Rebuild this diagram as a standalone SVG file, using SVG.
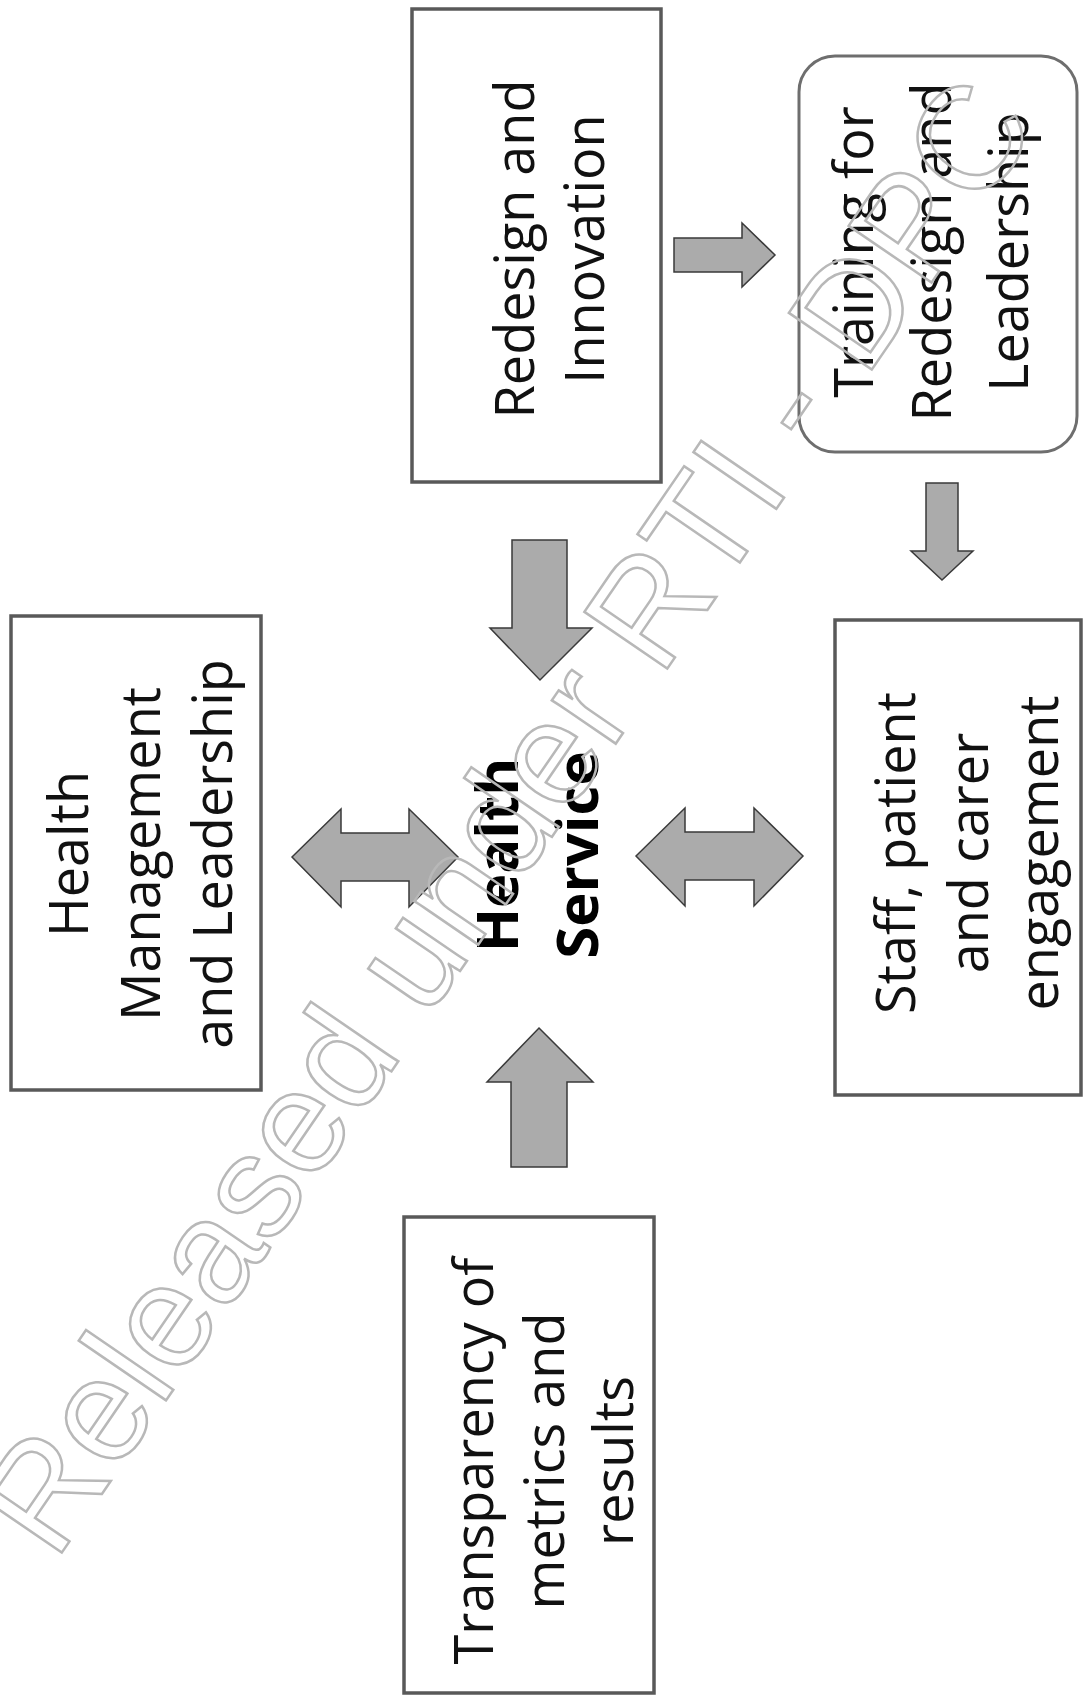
<svg xmlns="http://www.w3.org/2000/svg" width="1083" height="1700" viewBox="0 0 1083 1700">
<style>
.box{fill:#ffffff;stroke:#595959;stroke-width:3.5}
.rbox{fill:#ffffff;stroke:#6e6e6e;stroke-width:3}
.lbl{font-family:"Open Sans","Noto Sans",sans-serif;font-size:54px;fill:#111;text-anchor:middle}
.hs{font-family:"Open Sans","Noto Sans",sans-serif;font-size:58px;font-weight:bold;fill:#000;text-anchor:middle}
.arr{fill:#ababab;stroke:#3a3a3a;stroke-width:1.5;stroke-linejoin:miter}
.wm{font-family:"Liberation Sans",Arial,sans-serif;font-size:146px;fill:none;stroke:#b8b8b8;stroke-width:2.5;text-anchor:middle}
</style>
<rect width="1083" height="1700" fill="#ffffff"/>
<g id="connectors">
<path class="arr" d="M512,540 H567 V628 H592 L540,680 L490,628 H512 Z"/>
<path class="arr" d="M539,1028 L593,1082 H567 V1167 H511 V1082 H487 Z"/>
<path class="arr" d="M292,857 L341,809 V833 H409 V809 L458,857 L409,907 V881 H341 V907 Z"/>
<path class="arr" d="M636,856 L685,808 V832 H754 V808 L803,856 L754,906 V880 H685 V906 Z"/>
<path class="arr" d="M674,238 H742 V223 L775,255 L742,287 V272 H674 Z"/>
<path class="arr" d="M926,483 H958 V551 H973 L942,580 L911,551 H926 Z"/>
</g>
<g id="health-management">
<rect class="box" x="11" y="616" width="250" height="474"/>
<text class="lbl" transform="translate(0,854) rotate(-90)"><tspan x="0" y="88">Health</tspan><tspan x="0" y="160">Management</tspan><tspan x="0" y="232">and Leadership</tspan></text>
</g>
<g id="redesign">
<rect class="box" x="412" y="9" width="249" height="473"/>
<text class="lbl" transform="translate(0,249) rotate(-90)"><tspan x="0" y="534">Redesign and</tspan><tspan x="0" y="604">Innovation</tspan></text>
</g>
<g id="training">
<rect class="rbox" x="799" y="56" width="278" height="396" rx="36" ry="36"/>
<text class="lbl" transform="translate(0,252) rotate(-90)"><tspan x="0" y="873">Training for</tspan><tspan x="0" y="951">Redesign and</tspan><tspan x="0" y="1028">Leadership</tspan></text>
</g>
<g id="staff">
<rect class="box" x="835" y="620" width="246" height="475"/>
<text class="lbl" transform="translate(0,853) rotate(-90)"><tspan x="0" y="915">Staff, patient</tspan><tspan x="0" y="988">and carer</tspan><tspan x="0" y="1058">engagement</tspan></text>
</g>
<g id="transparency">
<rect class="box" x="404" y="1217" width="250" height="476"/>
<text class="lbl" transform="translate(0,1461) rotate(-90)"><tspan x="0" y="493">Transparency of</tspan><tspan x="0" y="564">metrics and</tspan><tspan x="0" y="633">results</tspan></text>
</g>
<g id="health-service">
<text class="hs" transform="translate(0,855) rotate(-90)"><tspan x="0" y="518">Health</tspan><tspan x="0" y="598">Service</tspan></text>
</g>
<text class="wm" transform="translate(505,815) rotate(-55.6)" x="0" y="0" dy="0.35em">Released under RTI - DPC</text>
</svg>
